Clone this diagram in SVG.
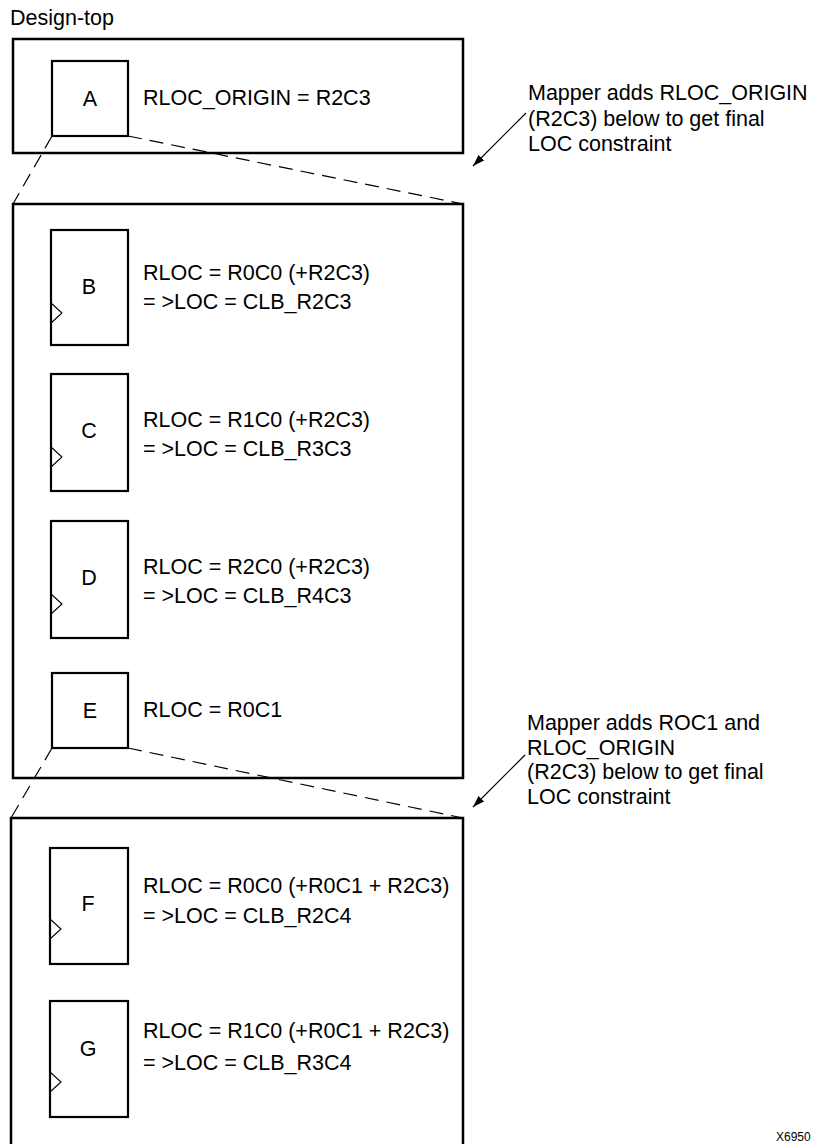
<svg xmlns="http://www.w3.org/2000/svg" width="817" height="1144" viewBox="0 0 817 1144">
<style>
text{font-family:"Liberation Sans",Arial,Helvetica,sans-serif;font-size:21.5px;fill:#000}
.lbl{text-anchor:middle}
.outer{fill:none;stroke:#000;stroke-width:2.5}
.cell{fill:#fff;stroke:#000;stroke-width:2.2}
.clk{fill:none;stroke:#000;stroke-width:1.1}
.dash{fill:none;stroke:#000;stroke-width:1.2;stroke-dasharray:14 8}
.arr{fill:none;stroke:#000;stroke-width:1.2}
.small{font-size:12px}
</style>
<defs>
<marker id="ah" viewBox="0 0 12 8" refX="12" refY="4" markerWidth="12" markerHeight="8" markerUnits="userSpaceOnUse" orient="auto">
<path d="M0,0 L12,4 L0,8 Z" fill="#000"/>
</marker>
</defs>
<rect width="817" height="1144" fill="#fff"/>
<text x="10" y="25">Design-top</text>
<g id="design-top"><rect class="outer" x="13" y="39" width="450" height="114"/></g>
<g id="mid-block"><rect class="outer" x="13" y="204" width="450" height="574"/></g>
<g id="low-block"><rect class="outer" x="11" y="818" width="452" height="340"/></g>
<g id="connectors">
<path class="dash" d="M52,136 L13,204"/>
<path class="dash" d="M128,136 L463,204"/>
<path class="dash" d="M52,748 L11,818"/>
<path class="dash" d="M128,748 L463,818"/>
<path class="arr" d="M526,113 L473,166" marker-end="url(#ah)"/>
<path class="arr" d="M525,755 L473,807" marker-end="url(#ah)"/>
</g>
<g id="A"><rect class="cell" x="52" y="61" width="76" height="75"/><text class="lbl" x="90" y="106">A</text><text x="143" y="105">RLOC_ORIGIN = R2C3</text></g>
<g id="B"><rect class="cell" x="51" y="230" width="77" height="115"/><path class="clk" d="M51,303 L62,313 L51,323"/><text class="lbl" x="89" y="294">B</text><text x="143" y="280">RLOC = R0C0 (+R2C3)</text><text x="143" y="309">= &gt;LOC = CLB_R2C3</text></g>
<g id="C"><rect class="cell" x="51" y="374" width="77" height="117"/><path class="clk" d="M51,447 L62,457 L51,467"/><text class="lbl" x="89" y="438">C</text><text x="143" y="427">RLOC = R1C0 (+R2C3)</text><text x="143" y="456">= &gt;LOC = CLB_R3C3</text></g>
<g id="D"><rect class="cell" x="51" y="521" width="77" height="117"/><path class="clk" d="M51,594 L62,604 L51,614"/><text class="lbl" x="89" y="585">D</text><text x="143" y="574">RLOC = R2C0 (+R2C3)</text><text x="143" y="603">= &gt;LOC = CLB_R4C3</text></g>
<g id="E"><rect class="cell" x="52" y="673" width="76" height="75"/><text class="lbl" x="90" y="718">E</text><text x="143" y="717">RLOC = R0C1</text></g>
<g id="F"><rect class="cell" x="50" y="848" width="78" height="116"/><path class="clk" d="M50,919 L61,929 L50,939"/><text class="lbl" x="88" y="911">F</text><text x="143" y="893">RLOC = R0C0 (+R0C1 + R2C3)</text><text x="143" y="923">= &gt;LOC = CLB_R2C4</text></g>
<g id="G"><rect class="cell" x="50" y="1001" width="78" height="116"/><path class="clk" d="M50,1072 L61,1082 L50,1092"/><text class="lbl" x="88" y="1056">G</text><text x="143" y="1038">RLOC = R1C0 (+R0C1 + R2C3)</text><text x="143" y="1070">= &gt;LOC = CLB_R3C4</text></g>
<g id="note1"><text x="528" y="100">Mapper adds RLOC_ORIGIN</text><text x="528" y="126">(R2C3) below to get final</text><text x="528" y="151">LOC constraint</text></g>
<g id="note2"><text x="527" y="730">Mapper adds ROC1 and</text><text x="527" y="755">RLOC_ORIGIN</text><text x="527" y="779">(R2C3) below to get final</text><text x="527" y="804">LOC constraint</text></g>
<text class="small" x="776" y="1141">X6950</text>
</svg>
